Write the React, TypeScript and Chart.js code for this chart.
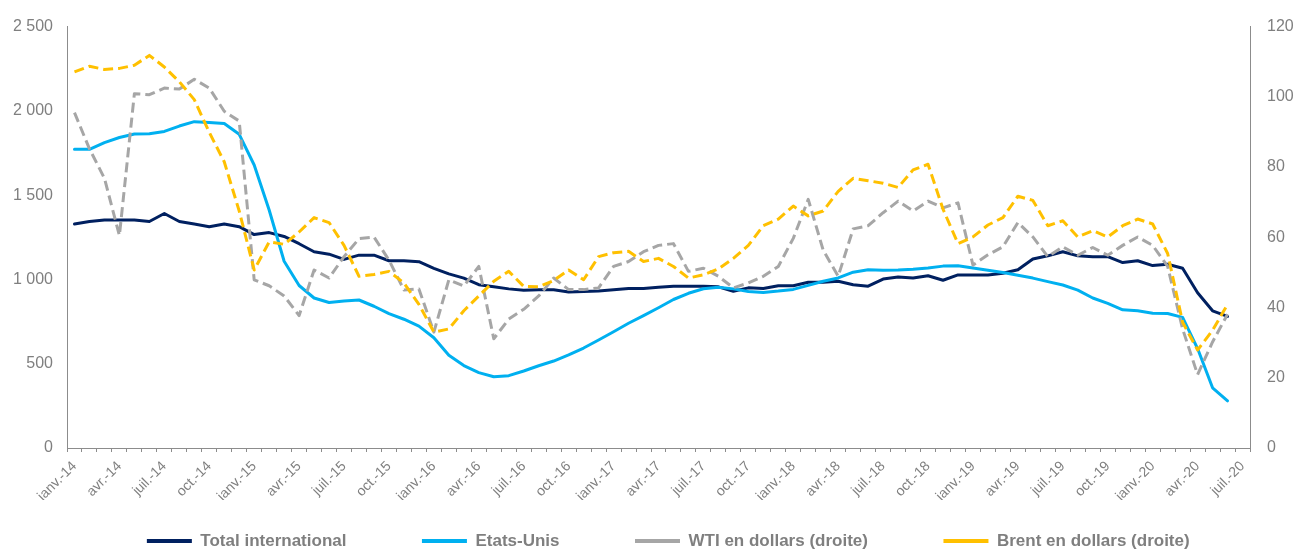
import { useEffect, useRef } from 'react';
import { Chart, registerables } from 'chart.js';

Chart.register(...registerables);

const categories = [
  'janv.-14', 'févr.-14', 'mars-14', 'avr.-14', 'mai-14', 'juin-14', 'juil.-14', 'août-14', 'sept.-14', 'oct.-14', 'nov.-14', 'déc.-14',
  'janv.-15', 'févr.-15', 'mars-15', 'avr.-15', 'mai-15', 'juin-15', 'juil.-15', 'août-15', 'sept.-15', 'oct.-15', 'nov.-15', 'déc.-15',
  'janv.-16', 'févr.-16', 'mars-16', 'avr.-16', 'mai-16', 'juin-16', 'juil.-16', 'août-16', 'sept.-16', 'oct.-16', 'nov.-16', 'déc.-16',
  'janv.-17', 'févr.-17', 'mars-17', 'avr.-17', 'mai-17', 'juin-17', 'juil.-17', 'août-17', 'sept.-17', 'oct.-17', 'nov.-17', 'déc.-17',
  'janv.-18', 'févr.-18', 'mars-18', 'avr.-18', 'mai-18', 'juin-18', 'juil.-18', 'août-18', 'sept.-18', 'oct.-18', 'nov.-18', 'déc.-18',
  'janv.-19', 'févr.-19', 'mars-19', 'avr.-19', 'mai-19', 'juin-19', 'juil.-19', 'août-19', 'sept.-19', 'oct.-19', 'nov.-19', 'déc.-19',
  'janv.-20', 'févr.-20', 'mars-20', 'avr.-20', 'mai-20', 'juin-20', 'juil.-20',
];

const totalInternational = [
  1329, 1344, 1352, 1352, 1352, 1344, 1391, 1344, 1329, 1313,
  1329, 1313, 1266, 1278, 1255, 1212, 1164, 1150, 1119, 1144,
  1144, 1111, 1111, 1105, 1066, 1033, 1008, 969, 956, 944,
  936, 939, 939, 925, 928, 931, 939, 946, 946, 954,
  960, 960, 960, 956, 930, 950, 946, 963, 963, 983,
  983, 989, 969, 960, 1002, 1014, 1008, 1022, 995, 1027,
  1027, 1027, 1037, 1057, 1121, 1140, 1164, 1140, 1135, 1135,
  1100, 1111, 1082, 1090, 1066, 921, 814, 781,
];

const etatsUnis = [
  1772, 1772, 1812, 1842, 1863, 1864, 1878, 1910, 1936, 1931,
  1925, 1861, 1679, 1412, 1108, 964, 890, 863, 872, 878,
  841, 797, 764, 723, 654, 550, 489, 447, 423, 429,
  457, 488, 516, 552, 593, 641, 690, 740, 785, 832,
  881, 918, 945, 954, 944, 928, 923, 931, 941, 965,
  989, 1009, 1043, 1057, 1054, 1056, 1061, 1068, 1079, 1081,
  1068, 1055, 1041, 1025, 1008, 987, 967, 937, 890, 858,
  820, 814, 800, 798, 775, 590, 357, 280,
];

const wtiDollars = [
  95.5, 85.2, 76.8, 60.5, 100.9, 100.6, 102.5, 102.2, 105, 102.5,
  95.9, 93.1, 47.9, 46.2, 43.3, 37.7, 50.7, 48.4, 54.5, 59.6,
  60.1, 53.5, 45, 45.3, 33, 47.9, 46.1, 51.7, 31.1, 36.7,
  39.5, 43.3, 48.4, 45.1, 45.1, 45.6, 51.7, 53.1, 55.9, 57.7,
  58.2, 50.3, 51.2, 48.9, 45.6, 47, 48.9, 51.7, 59.7, 70.8,
  56.3, 48.9, 62.4, 63.3, 67, 70.3, 67.5, 70.3, 68.4, 69.8,
  52.1, 55, 57.3, 64.2, 60.1, 54.5, 57.3, 54.9, 57.1, 54.9,
  57.7, 60.1, 57.7, 51.7, 33.9, 20.9, 30.2, 38.1,
];

const brentDollars = [
  107.1, 108.7, 107.8, 108.1, 109, 111.8, 108.5, 104.3, 99.2, 89.9,
  81.5, 67.5, 50.7, 58.7, 58, 61.5, 65.6, 64.2, 57.7, 48.9,
  49.4, 50.3, 47, 40.9, 33, 33.9, 39.1, 43.3, 47.5, 50.3,
  46, 45.9, 47.7, 50.7, 47.9, 54.5, 55.6, 56, 53.1, 54,
  51.7, 48.4, 49.3, 51, 54, 57.7, 63.3, 65.2, 68.9, 66.1,
  67.5, 73.1, 76.8, 76.1, 75.4, 74.2, 79.2, 80.8, 68, 58.2,
  60.1, 63.5, 65.6, 71.7, 70.5, 63.3, 64.7, 60.1, 61.9, 60.1,
  63.3, 65.2, 63.8, 55.4, 35.8, 27.9, 33.5, 40.9,
];

const seriesNames = ['Total international', 'Etats-Unis', 'WTI en dollars (droite)', 'Brent en dollars (droite)'];

const AXIS = '#8c8c8c';
const TEXT = '#7f7f7f';
const LEGEND_PADDING = 75.5;

function formatThousands(v: number): string {
  return String(v).replace(/\B(?=(\d{3})+(?!\d))/g, ' ');
}

const legendPlacement = {
  id: 'legendPlacement',
  beforeDraw(chart: any) {
    const lg = chart.legend;
    if (!lg) return;
    lg.left = 31.5;
    lg.top = 457;
    lg.bottom = chart.height;
  },
};

export default function App() {
  const ref = useRef<HTMLCanvasElement>(null);

  useEffect(() => {
    Chart.defaults.font.family = '"Liberation Sans", Arial, sans-serif';
    const chart = new Chart(ref.current!, {
      type: 'line',
      data: {
        labels: categories,
        datasets: [
          {
            label: seriesNames[0], data: totalInternational, yAxisID: 'y',
            borderColor: '#002060', backgroundColor: '#002060', borderWidth: 3,
            pointRadius: 0, tension: 0, borderCapStyle: 'round', borderJoinStyle: 'round', order: 4,
          },
          {
            label: seriesNames[1], data: etatsUnis, yAxisID: 'y',
            borderColor: '#00b0f0', backgroundColor: '#00b0f0', borderWidth: 3,
            pointRadius: 0, tension: 0, borderCapStyle: 'round', borderJoinStyle: 'round', order: 3,
          },
          {
            label: seriesNames[2], data: wtiDollars, yAxisID: 'y1',
            borderColor: '#a6a6a6', backgroundColor: '#a6a6a6', borderWidth: 3, borderDash: [10, 5],
            pointRadius: 0, tension: 0, borderCapStyle: 'butt', borderJoinStyle: 'round', order: 2,
          },
          {
            label: seriesNames[3], data: brentDollars, yAxisID: 'y1',
            borderColor: '#ffc000', backgroundColor: '#ffc000', borderWidth: 3, borderDash: [10, 5],
            pointRadius: 0, tension: 0, borderCapStyle: 'butt', borderJoinStyle: 'round', order: 1,
          },
        ],
      },
      plugins: [legendPlacement],
      options: {
        responsive: false,
        animation: false,
        events: [],
        layout: { padding: { top: 19, left: 0, right: 0, bottom: 0 } },
        plugins: {
          tooltip: { enabled: false },
          legend: {
            position: 'bottom',
            maxHeight: 62,
            labels: {
              usePointStyle: true,
              pointStyle: 'line',
              pointStyleWidth: 45,
              padding: LEGEND_PADDING,
              color: TEXT,
              font: { size: 17, weight: 'bold' },
              sort: (a: any, b: any) => a.datasetIndex - b.datasetIndex,
              generateLabels: (c: any) =>
                (Chart.defaults.plugins.legend.labels as any).generateLabels(c).map((it: any) => ({ ...it, lineWidth: 4 })),
            },
          },
        },
        scales: {
          x: {
            type: 'category',
            offset: true,
            grid: { offset: true, drawOnChartArea: false, drawTicks: true, tickLength: 4, color: AXIS },
            border: { color: AXIS, width: 1 },
            ticks: {
              autoSkip: false,
              minRotation: 45,
              maxRotation: 45,
              padding: 6,
              color: TEXT,
              font: { size: 14 },
              callback: (_v: any, i: number) => (i % 3 === 0 ? categories[i] : ''),
            },
            afterFit: (s: any) => { s.height = 52; s.paddingLeft = 0; s.paddingRight = 0; },
          },
          y: {
            position: 'left',
            min: 0,
            max: 2500,
            grid: { drawOnChartArea: false, drawTicks: false },
            border: { color: AXIS, width: 1 },
            ticks: { stepSize: 500, padding: 14, color: TEXT, font: { size: 16 }, callback: (v: any) => formatThousands(Number(v)) },
            afterFit: (s: any) => { s.width = 67; },
          },
          y1: {
            position: 'right',
            min: 0,
            max: 120,
            grid: { drawOnChartArea: false, drawTicks: false },
            border: { color: AXIS, width: 1 },
            ticks: { stepSize: 20, padding: 17, color: TEXT, font: { size: 16 } },
            afterFit: (s: any) => { s.width = 55; },
          },
        },
      },
    } as any);
    return () => chart.destroy();
  }, []);

  return (
    <div style={{ position: 'fixed', left: 0, top: 0, width: 1305, height: 552, overflow: 'hidden', background: '#ffffff' }}>
      <canvas ref={ref} width={1305} height={562} style={{ display: 'block' }} />
    </div>
  );
}
